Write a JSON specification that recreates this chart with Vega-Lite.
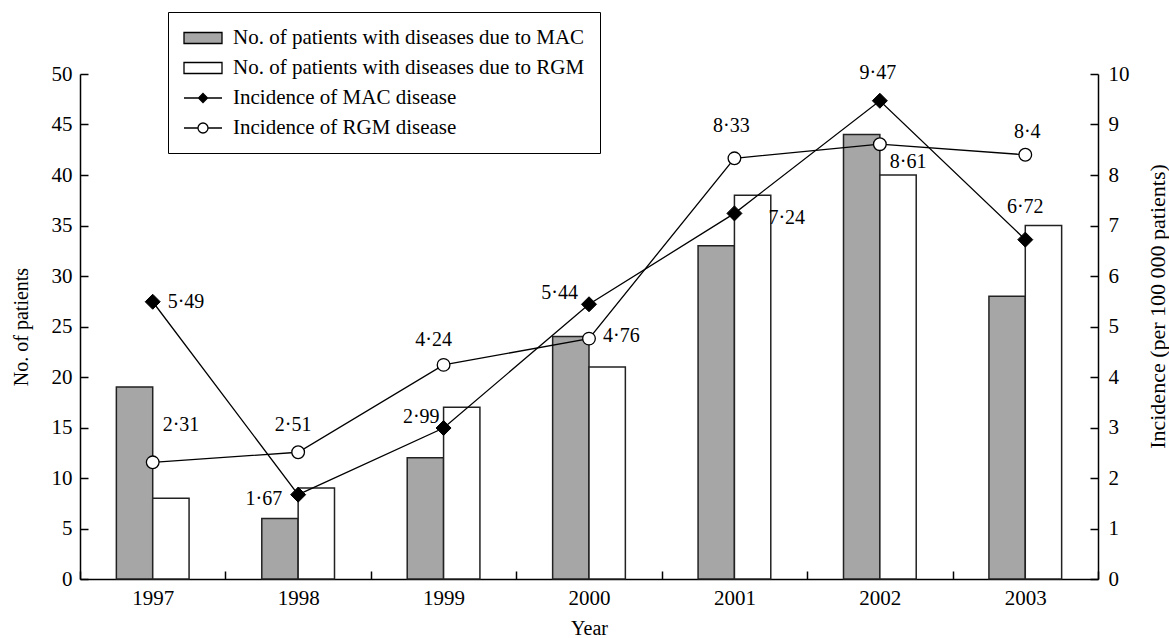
{
  "$schema": "https://vega.github.io/schema/vega-lite/v6.json",
  "autosize": "none",
  "width": 1018,
  "height": 505,
  "padding": {"left": 80, "top": 74, "right": 71, "bottom": 59},
  "background": "white",
  "config": {
    "view": {"stroke": null},
    "font": "Liberation Serif",
    "axis": {
      "labelFont": "Liberation Serif",
      "titleFont": "Liberation Serif",
      "labelFontSize": 21,
      "titleFontSize": 20,
      "titleFontWeight": "normal",
      "labelColor": "black",
      "titleColor": "black",
      "domainColor": "black",
      "domainWidth": 1.5,
      "tickColor": "black",
      "tickWidth": 1.5,
      "grid": false
    },
    "legend": {
      "labelFont": "Liberation Serif",
      "labelFontSize": 21,
      "labelColor": "black",
      "labelLimit": 600
    }
  },
  "datasets": {
    "bars": [
      {"year": "1997", "key": "No. of patients with diseases due to MAC", "patients": 19},
      {"year": "1997", "key": "No. of patients with diseases due to RGM", "patients": 8},
      {"year": "1998", "key": "No. of patients with diseases due to MAC", "patients": 6},
      {"year": "1998", "key": "No. of patients with diseases due to RGM", "patients": 9},
      {"year": "1999", "key": "No. of patients with diseases due to MAC", "patients": 12},
      {"year": "1999", "key": "No. of patients with diseases due to RGM", "patients": 17},
      {"year": "2000", "key": "No. of patients with diseases due to MAC", "patients": 24},
      {"year": "2000", "key": "No. of patients with diseases due to RGM", "patients": 21},
      {"year": "2001", "key": "No. of patients with diseases due to MAC", "patients": 33},
      {"year": "2001", "key": "No. of patients with diseases due to RGM", "patients": 38},
      {"year": "2002", "key": "No. of patients with diseases due to MAC", "patients": 44},
      {"year": "2002", "key": "No. of patients with diseases due to RGM", "patients": 40},
      {"year": "2003", "key": "No. of patients with diseases due to MAC", "patients": 28},
      {"year": "2003", "key": "No. of patients with diseases due to RGM", "patients": 35}
    ],
    "lines": [
      {"year": "1997", "key": "Incidence of MAC disease", "incidence": 5.49, "label": "5·49"},
      {"year": "1998", "key": "Incidence of MAC disease", "incidence": 1.67, "label": "1·67"},
      {"year": "1999", "key": "Incidence of MAC disease", "incidence": 2.99, "label": "2·99"},
      {"year": "2000", "key": "Incidence of MAC disease", "incidence": 5.44, "label": "5·44"},
      {"year": "2001", "key": "Incidence of MAC disease", "incidence": 7.24, "label": "7·24"},
      {"year": "2002", "key": "Incidence of MAC disease", "incidence": 9.47, "label": "9·47"},
      {"year": "2003", "key": "Incidence of MAC disease", "incidence": 6.72, "label": "6·72"},
      {"year": "1997", "key": "Incidence of RGM disease", "incidence": 2.31, "label": "2·31"},
      {"year": "1998", "key": "Incidence of RGM disease", "incidence": 2.51, "label": "2·51"},
      {"year": "1999", "key": "Incidence of RGM disease", "incidence": 4.24, "label": "4·24"},
      {"year": "2000", "key": "Incidence of RGM disease", "incidence": 4.76, "label": "4·76"},
      {"year": "2001", "key": "Incidence of RGM disease", "incidence": 8.33, "label": "8·33"},
      {"year": "2002", "key": "Incidence of RGM disease", "incidence": 8.61, "label": "8·61"},
      {"year": "2003", "key": "Incidence of RGM disease", "incidence": 8.4, "label": "8·4"}
    ]
  },
  "encoding": {
    "x": {
      "field": "year",
      "type": "nominal",
      "title": "Year",
      "scale": {"paddingInner": 0, "paddingOuter": 0},
      "axis": {"labelAngle": 0, "tickBand": "extent", "tickSize": -8, "labelPadding": 16, "titlePadding": 10}
    }
  },
  "layer": [
    {
      "data": {"name": "bars"},
      "mark": {"type": "bar", "stroke": "#222", "strokeWidth": 1.5},
      "encoding": {
        "xOffset": {"field": "key", "type": "nominal", "scale": {"paddingOuter": 1.5, "paddingInner": 0}},
        "y": {
          "field": "patients",
          "type": "quantitative",
          "title": "No. of patients",
          "scale": {"domain": [0, 50], "nice": false},
          "axis": {"values": [0, 5, 10, 15, 20, 25, 30, 35, 40, 45, 50], "tickSize": -8, "labelPadding": 16, "titlePadding": 20}
        },
        "fill": {
          "field": "key",
          "type": "nominal",
          "scale": {
            "domain": ["No. of patients with diseases due to MAC", "No. of patients with diseases due to RGM", "Incidence of MAC disease", "Incidence of RGM disease"],
            "range": ["#a6a6a6", "#ffffff", "#000000", "#ffffff"]
          },
          "legend": {
            "orient": "none",
            "legendX": 88,
            "legendY": -62,
            "title": null,
            "strokeColor": "black",
            "padding": 15,
            "symbolSize": 400,
            "symbolStrokeColor": "black",
            "symbolStrokeWidth": 1.3,
            "labelOffset": 28,
            "rowPadding": 9,
            "symbolType": {"expr": "datum.value === 'Incidence of MAC disease' ? 'M-1,0H2.8M0.9,-0.45L1.35,0L0.9,0.45L0.45,0Z' : (datum.value === 'Incidence of RGM disease' ? 'M-1,0H0.4M1.4,0H2.8M1.4,0A0.5,0.5 0 1,1 0.4,0A0.5,0.5 0 1,1 1.4,0Z' : 'M-1,-0.55H2.8V0.55H-1Z')"},
            "encode": {
              "symbols": {
                "update": {
                  "shape": {"signal": "datum.value === 'Incidence of MAC disease' ? 'M-1,0H2.8M0.9,-0.45L1.35,0L0.9,0.45L0.45,0Z' : (datum.value === 'Incidence of RGM disease' ? 'M-1,0H0.4M1.4,0H2.8M1.4,0A0.5,0.5 0 1,1 0.4,0A0.5,0.5 0 1,1 1.4,0Z' : 'M-1,-0.55H2.8V0.55H-1Z')"},
                  "stroke": {"value": "black"},
                  "strokeWidth": {"value": 1.3}
                }
              }
            }
          }
        }
      }
    },
    {
      "data": {"name": "lines"},
      "layer": [
        {
          "mark": {"type": "line", "color": "black", "strokeWidth": 1.3},
          "encoding": {"detail": {"field": "key"}}
        },
        {
          "transform": [{"filter": "datum.key === 'Incidence of MAC disease'"}],
          "mark": {"type": "point", "shape": "diamond", "filled": true, "size": 225, "opacity": 1, "stroke": "black", "strokeWidth": 1},
          "encoding": {"fill": {"field": "key", "type": "nominal"}}
        },
        {
          "transform": [{"filter": "datum.key === 'Incidence of RGM disease'"}],
          "mark": {"type": "point", "shape": "circle", "filled": true, "size": 160, "opacity": 1, "stroke": "black", "strokeWidth": 1.3},
          "encoding": {"fill": {"field": "key", "type": "nominal"}}
        },
        {
          "transform": [{"filter": "datum.key === 'Incidence of MAC disease' && datum.year === '1997'"}],
          "mark": {"type": "text", "align": "left", "baseline": "middle", "dx": 15, "dy": 0, "fontSize": 20, "font": "Liberation Serif", "color": "black"},
          "encoding": {"text": {"field": "label"}}
        },
        {
          "transform": [{"filter": "datum.key === 'Incidence of RGM disease' && datum.year === '1997'"}],
          "mark": {"type": "text", "align": "left", "baseline": "middle", "dx": 10, "dy": -37, "fontSize": 20, "font": "Liberation Serif", "color": "black"},
          "encoding": {"text": {"field": "label"}}
        },
        {
          "transform": [{"filter": "datum.key === 'Incidence of RGM disease' && datum.year === '1998'"}],
          "mark": {"type": "text", "align": "center", "baseline": "middle", "dx": -5, "dy": -27, "fontSize": 20, "font": "Liberation Serif", "color": "black"},
          "encoding": {"text": {"field": "label"}}
        },
        {
          "transform": [{"filter": "datum.key === 'Incidence of MAC disease' && datum.year === '1998'"}],
          "mark": {"type": "text", "align": "right", "baseline": "middle", "dx": -16, "dy": 4, "fontSize": 20, "font": "Liberation Serif", "color": "black"},
          "encoding": {"text": {"field": "label"}}
        },
        {
          "transform": [{"filter": "datum.key === 'Incidence of RGM disease' && datum.year === '1999'"}],
          "mark": {"type": "text", "align": "center", "baseline": "middle", "dx": -10, "dy": -25, "fontSize": 20, "font": "Liberation Serif", "color": "black"},
          "encoding": {"text": {"field": "label"}}
        },
        {
          "transform": [{"filter": "datum.key === 'Incidence of MAC disease' && datum.year === '1999'"}],
          "mark": {"type": "text", "align": "right", "baseline": "middle", "dx": -4, "dy": -11, "fontSize": 20, "font": "Liberation Serif", "color": "black"},
          "encoding": {"text": {"field": "label"}}
        },
        {
          "transform": [{"filter": "datum.key === 'Incidence of MAC disease' && datum.year === '2000'"}],
          "mark": {"type": "text", "align": "right", "baseline": "middle", "dx": -11, "dy": -11, "fontSize": 20, "font": "Liberation Serif", "color": "black"},
          "encoding": {"text": {"field": "label"}}
        },
        {
          "transform": [{"filter": "datum.key === 'Incidence of RGM disease' && datum.year === '2000'"}],
          "mark": {"type": "text", "align": "left", "baseline": "middle", "dx": 14, "dy": -3, "fontSize": 20, "font": "Liberation Serif", "color": "black"},
          "encoding": {"text": {"field": "label"}}
        },
        {
          "transform": [{"filter": "datum.key === 'Incidence of RGM disease' && datum.year === '2001'"}],
          "mark": {"type": "text", "align": "center", "baseline": "middle", "dx": -3, "dy": -32, "fontSize": 20, "font": "Liberation Serif", "color": "black"},
          "encoding": {"text": {"field": "label"}}
        },
        {
          "transform": [{"filter": "datum.key === 'Incidence of MAC disease' && datum.year === '2001'"}],
          "mark": {"type": "text", "align": "left", "baseline": "middle", "dx": 34, "dy": 5, "fontSize": 20, "font": "Liberation Serif", "color": "black"},
          "encoding": {"text": {"field": "label"}}
        },
        {
          "transform": [{"filter": "datum.key === 'Incidence of MAC disease' && datum.year === '2002'"}],
          "mark": {"type": "text", "align": "center", "baseline": "middle", "dx": -2, "dy": -28, "fontSize": 20, "font": "Liberation Serif", "color": "black"},
          "encoding": {"text": {"field": "label"}}
        },
        {
          "transform": [{"filter": "datum.key === 'Incidence of RGM disease' && datum.year === '2002'"}],
          "mark": {"type": "text", "align": "left", "baseline": "middle", "dx": 10, "dy": 18, "fontSize": 20, "font": "Liberation Serif", "color": "black"},
          "encoding": {"text": {"field": "label"}}
        },
        {
          "transform": [{"filter": "datum.key === 'Incidence of RGM disease' && datum.year === '2003'"}],
          "mark": {"type": "text", "align": "center", "baseline": "middle", "dx": 2, "dy": -23, "fontSize": 20, "font": "Liberation Serif", "color": "black"},
          "encoding": {"text": {"field": "label"}}
        },
        {
          "transform": [{"filter": "datum.key === 'Incidence of MAC disease' && datum.year === '2003'"}],
          "mark": {"type": "text", "align": "center", "baseline": "middle", "dx": 0, "dy": -33, "fontSize": 20, "font": "Liberation Serif", "color": "black"},
          "encoding": {"text": {"field": "label"}}
        }
      ],
      "encoding": {
        "y": {
          "field": "incidence",
          "type": "quantitative",
          "title": "Incidence (per 100 000 patients)",
          "scale": {"domain": [0, 10], "nice": false},
          "axis": {"orient": "right", "values": [0, 1, 2, 3, 4, 5, 6, 7, 8, 9, 10], "tickSize": -8, "labelPadding": 18, "titlePadding": 18, "titleAngle": 270, "titleBaseline": "top", "titleFontSize": 22, "titleY": 232}
        }
      }
    }
  ],
  "resolve": {"scale": {"y": "independent"}}
}
